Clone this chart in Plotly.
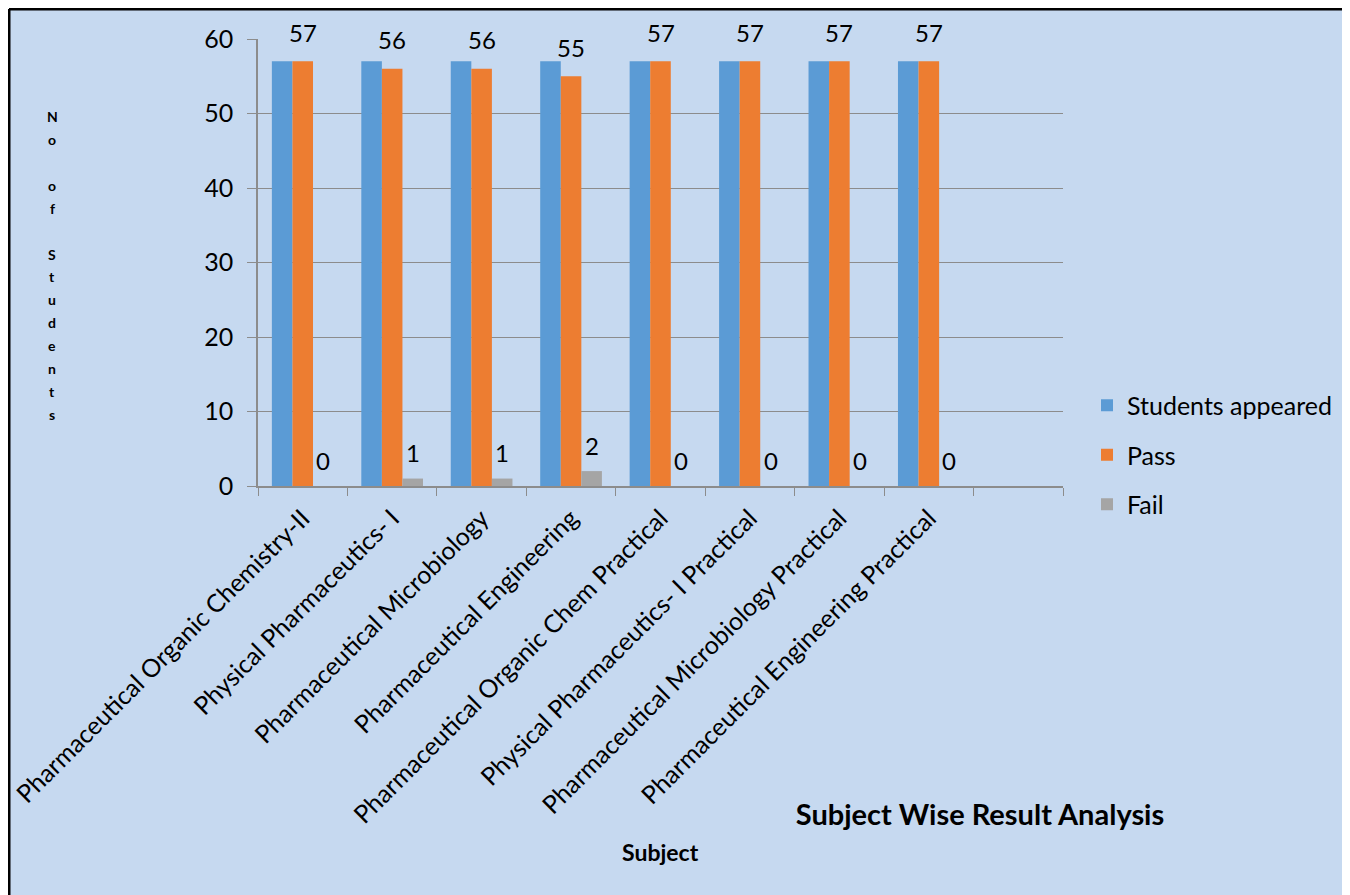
import plotly.graph_objects as go

subjects = [
    "Pharmaceutical Organic Chemistry-II",
    "Physical Pharmaceutics- I",
    "Pharmaceutical Microbiology",
    "Pharmaceutical Engineering",
    "Pharmaceutical Organic Chem Practical",
    "Physical Pharmaceutics- I Practical",
    "Pharmaceutical Microbiology Practical",
    "Pharmaceutical Engineering Practical",
]
appeared = [57, 57, 57, 57, 57, 57, 57, 57]
passed = [57, 56, 56, 55, 57, 57, 57, 57]
failed = [0, 1, 1, 2, 0, 0, 0, 0]

y_ticks = [0, 10, 20, 30, 40, 50, 60]
y_title_letters = ["N", "o", "", "o", "f", "", "S", "t", "u", "d", "e", "n", "t", "s"]

W, H = 1350, 895
OFF = 8  # page offset of the figure (body margin)
# plot area in page pixels
PL, PR, PT, PB = 258, 1063, 39, 486
L, R, T, B = PL - OFF, PR - OFF, PT - OFF, PB - OFF
PW, PH = R - L, B - T


def px(x):
    """page pixel x -> paper x"""
    return (x - OFF - L) / PW


def py(y):
    """page pixel y -> paper y"""
    return (B - (y - OFF)) / PH


FONT = "Lato"
BG = "#C6D9F0"
GRID = "#8C8C8C"

cats = subjects + [" "]

fig = go.Figure()
fig.add_trace(go.Bar(name="Students appeared", x=subjects, y=appeared,
                     marker=dict(color="#5B9BD5", line=dict(width=0)),
                     legendgroup="a"))
fig.add_trace(go.Bar(name="Pass", x=subjects, y=passed,
                     marker=dict(color="#ED7D31", line=dict(width=0)),
                     legendgroup="b"))
fig.add_trace(go.Bar(name="Fail", x=subjects, y=failed,
                     marker=dict(color="#A5A5A5", line=dict(width=0)),
                     legendgroup="c"))

annotations = []
bar_w = PW / len(cats) * (1 - 0.31) / 3
for s, p in zip(subjects, passed):
    annotations.append(dict(x=s, y=p, xref="x", yref="y", text=str(p), showarrow=False,
                            yshift=29, font=dict(family=FONT, size=24, color="black")))
for s, f in zip(subjects, failed):
    annotations.append(dict(x=s, y=f, xref="x", yref="y", text=str(f), showarrow=False,
                            yshift=26, xshift=bar_w, font=dict(family=FONT, size=24, color="black")))

# vertical stacked y-axis title
top_letter, step = 117, 22.85
for i, ch in enumerate(y_title_letters):
    if ch:
        annotations.append(dict(x=px(52), y=py(top_letter + i * step), xref="paper", yref="paper",
                                text="<b>%s</b>" % ch, showarrow=False, xanchor="center",
                                yanchor="middle",
                                font=dict(family=FONT, size=14, color="black")))

# x-axis title
annotations.append(dict(x=0.5, y=py(852), xref="paper", yref="paper", text="<b>Subject</b>",
                        showarrow=False, xanchor="center", yanchor="middle",
                        font=dict(family=FONT, size=23, color="black")))

fig.update_layout(
    width=W, height=H,
    margin=dict(l=L, r=W - R, t=T, b=H - B, autoexpand=False),
    paper_bgcolor="white",
    plot_bgcolor="rgba(0,0,0,0)",
    barmode="group", bargap=0.31, bargroupgap=0,
    font=dict(family=FONT, color="black"),
    title=dict(text="<b>Subject Wise Result Analysis</b>", x=(980 - OFF) / W,
               y=1 - (815 - OFF) / H,
               xanchor="center", yanchor="middle", xref="container", yref="container",
               font=dict(family=FONT, size=29, color="black")),
    legend=dict(x=px(1087), y=py(455), xanchor="left", yanchor="middle",
                font=dict(family=FONT, size=25, color="black"),
                bgcolor="rgba(0,0,0,0)", tracegroupgap=14, traceorder="grouped"),
    xaxis=dict(categoryorder="array", categoryarray=cats, range=[-0.5, len(cats) - 0.5],
               tickangle=-45, tickfont=dict(family=FONT, size=25, color="black"),
               showline=True, linecolor=GRID, linewidth=1.5, ticks="outside", ticklen=8,
               tickcolor=GRID, tickson="boundaries", showgrid=False, ticklabelstandoff=6),
    yaxis=dict(range=[0, 60], tickvals=y_ticks, showgrid=True, gridcolor=GRID, gridwidth=1,
               showline=True, linecolor=GRID, linewidth=1.5, ticks="outside", ticklen=9,
               tickcolor=GRID, tickfont=dict(family=FONT, size=25, color="black"),
               ticklabelstandoff=9, zeroline=False),
    annotations=annotations,
    shapes=[
        dict(type="rect", xref="paper", yref="paper", x0=px(8), y0=py(9), x1=px(1500),
             y1=py(1000), fillcolor=BG, line=dict(width=0), layer="below"),
        dict(type="line", xref="paper", yref="paper", x0=px(9), y0=py(9), x1=px(1500),
             y1=py(9), line=dict(color="black", width=3), layer="below"),
        dict(type="line", xref="paper", yref="paper", x0=px(9), y0=py(9), x1=px(9),
             y1=py(1000), line=dict(color="black", width=3), layer="below"),
    ],
)

fig.write_html("out.html")
